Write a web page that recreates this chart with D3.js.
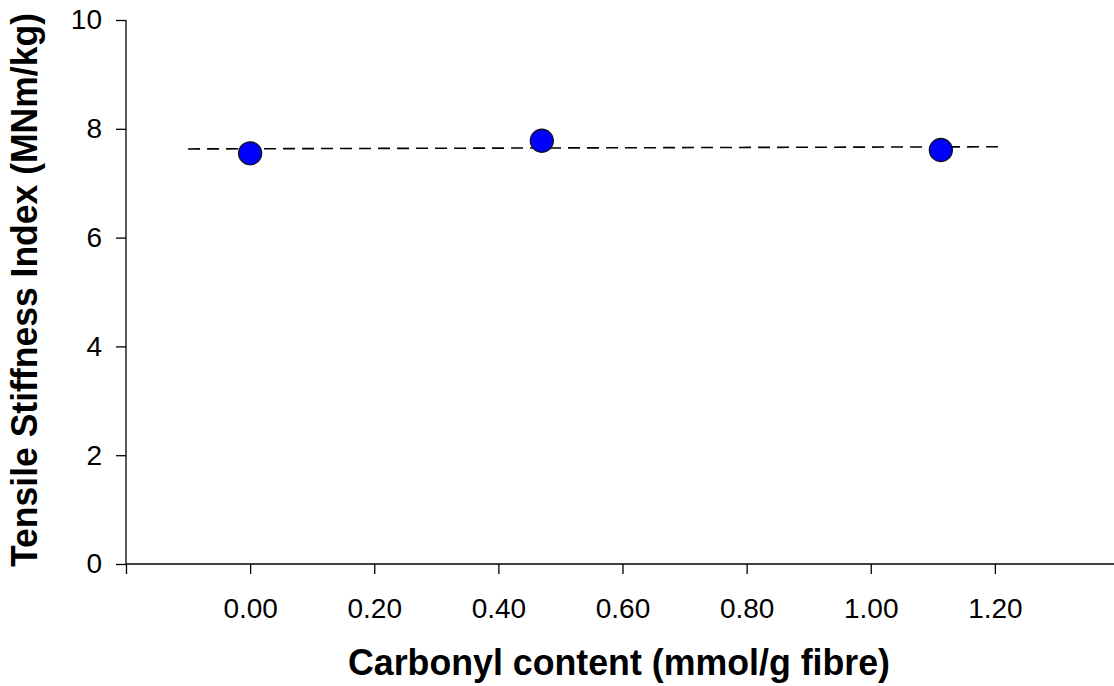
<!DOCTYPE html>
<html>
<head>
<meta charset="utf-8">
<script src="https://cdn.jsdelivr.net/npm/d3@7"></script>
<style>
  body { margin: 0; background: #fff; }
  text { font-family: "Liberation Sans", Arial, sans-serif; }
</style>
</head>
<body>
<div id="viz"></div>
<script>
// data
var carbonyl = [0.00, 0.47, 1.113];
var stiffness = [7.55, 7.78, 7.61];
// dashed fit line end points
var fitX = [-0.10, 1.21];
var fitY = [7.63, 7.67];
var xTicks = [-0.2, 0, 0.2, 0.4, 0.6, 0.8, 1.0, 1.2];
var yTicks = [0, 2, 4, 6, 8, 10];

var width = 1114, height = 686;

var x = d3.scaleLinear().domain([-0.2, 1.4]).range([126, 1119]);
var y = d3.scaleLinear().domain([0, 10]).range([564, 20]);

var svg = d3.select("#viz").append("svg")
  .attr("width", width)
  .attr("height", height);

// x axis
var xAxis = d3.axisBottom(x)
  .tickValues(xTicks)
  .tickSize(10)
  .tickPadding(24)
  .tickFormat(function(d) { return d < 0 ? "" : d3.format(".2f")(d); });

svg.append("g")
  .attr("transform", "translate(0," + y(0) + ")")
  .call(xAxis)
  .call(function(g) {
    g.select(".domain").attr("d", "M" + x(-0.2) + ",0H" + width);
    g.selectAll("text").attr("font-size", 28).attr("fill", "#000")
      .attr("font-family", "Liberation Sans, Arial, sans-serif");
    g.selectAll("line, path").attr("stroke", "#000").attr("stroke-width", 1.3);
  });

// y axis
var yAxis = d3.axisLeft(y)
  .tickValues(yTicks)
  .tickSize(10)
  .tickPadding(14);

svg.append("g")
  .attr("transform", "translate(" + x(-0.2) + ",0)")
  .call(yAxis)
  .call(function(g) {
    g.select(".domain").attr("d", "M0," + y(10) + "V" + y(0));
    g.selectAll("text").attr("font-size", 28).attr("fill", "#000")
      .attr("font-family", "Liberation Sans, Arial, sans-serif");
    g.selectAll("line, path").attr("stroke", "#000").attr("stroke-width", 1.3);
  });

// dashed fit line
svg.append("path")
  .datum(d3.zip(fitX, fitY))
  .attr("d", d3.line().x(function(d) { return x(d[0]); }).y(function(d) { return y(d[1]); }))
  .attr("fill", "none")
  .attr("stroke", "#000")
  .attr("stroke-width", 1.6)
  .attr("stroke-dasharray", "12,7");

// points
svg.selectAll("circle")
  .data(d3.zip(carbonyl, stiffness))
  .join("circle")
  .attr("cx", function(d) { return x(d[0]); })
  .attr("cy", function(d) { return y(d[1]); })
  .attr("r", 11.5)
  .attr("fill", "#0000ff")
  .attr("stroke", "#111")
  .attr("stroke-width", 1.3);

// axis titles
svg.append("text")
  .attr("x", 619)
  .attr("y", 675)
  .attr("text-anchor", "middle")
  .attr("font-size", 36)
  .attr("font-weight", "bold")
  .attr("textLength", 542)
  .attr("lengthAdjust", "spacingAndGlyphs")
  .text("Carbonyl content (mmol/g fibre)");

svg.append("text")
  .attr("transform", "translate(37,290) rotate(-90)")
  .attr("text-anchor", "middle")
  .attr("font-size", 36)
  .attr("font-weight", "bold")
  .attr("textLength", 554)
  .attr("lengthAdjust", "spacingAndGlyphs")
  .text("Tensile Stiffness Index (MNm/kg)");
</script>
</body>
</html>
